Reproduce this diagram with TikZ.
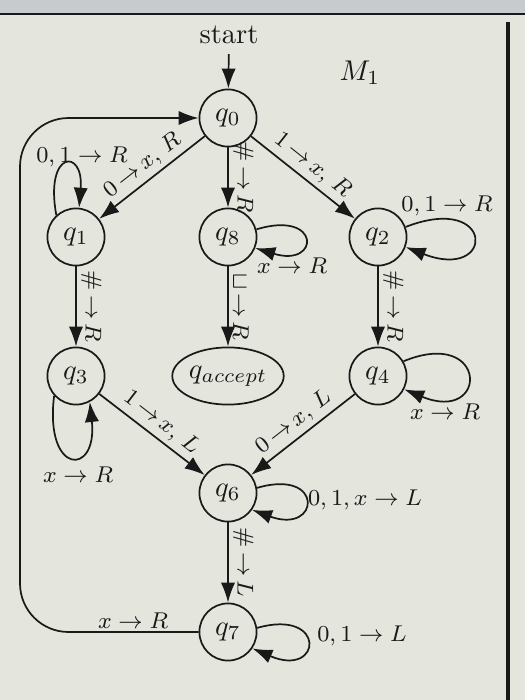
\documentclass[tikz,border=0pt]{standalone}
\usetikzlibrary{arrows.meta,shapes.geometric}
\definecolor{bg}{RGB}{228,230,221}
\definecolor{hdr}{RGB}{200,203,205}
\definecolor{ink}{RGB}{25,25,25}
\begin{document}
\begin{tikzpicture}[x=0.35pt,y=-0.35pt,
  state/.style={circle,draw=ink,line width=0.6pt,minimum size=20pt,inner sep=0pt,text=ink},
  acc/.style={ellipse,draw=ink,line width=0.6pt,minimum width=39pt,minimum height=20pt,inner sep=0pt,text=ink},
  edge/.style={draw=ink,line width=0.6pt,-{Latex[length=7pt,width=5pt]}},
  lbl/.style={font=\footnotesize,inner sep=1pt,text=ink},
  elbl/.style={lbl,sloped,above=0.5pt},
  ]
\useasboundingbox (0,0) rectangle (525,700);
\fill[bg] (0,0) rectangle (525,700);
\fill[hdr] (0,0) rectangle (525,13);
\draw[ink,line width=1pt] (0,14) -- (525,14);
\draw[ink,line width=1.4pt] (508,22) -- (508,700);

% states
\node[text=ink] (start) at (229,35) {start};
\node[text=ink] (m1) at (360,73) {$M_1$};
\node[state] (q0) at (228,118) {$q_0$};
\node[state] (q1) at (76,237) {$q_1$};
\node[state] (q8) at (228,237) {$q_8$};
\node[state] (q2) at (378,237) {$q_2$};
\node[state] (q3) at (76,376) {$q_3$};
\node[acc] (qa) at (228,376) {$q_{accept}$};
\node[state] (q4) at (378,376) {$q_4$};
\node[state] (q6) at (228,493) {$q_6$};
\node[state] (q7) at (228,632) {$q_7$};

% straight edges
\draw[edge] (start) -- (q0);
\draw[edge] (q0) -- node[elbl]{$0\,{\rightarrow}\,x,\,R$} (q1);
\draw[edge] (q0) -- node[elbl]{$\#\,{\rightarrow}\,R$} (q8);
\draw[edge] (q0) -- node[elbl]{$1\,{\rightarrow}\,x,\,R$} (q2);
\draw[edge] (q1) -- node[elbl]{$\#\,{\rightarrow}\,R$} (q3);
\draw[edge] (q8) -- node[elbl]{$\sqcup\,{\rightarrow}\,R$} (qa);
\draw[edge] (q2) -- node[elbl]{$\#\,{\rightarrow}\,R$} (q4);
\draw[edge] (q3) -- node[elbl]{$1\,{\rightarrow}\,x,\,L$} (q6);
\draw[edge] (q4) -- node[elbl]{$0\,{\rightarrow}\,x,\,L$} (q6);
\draw[edge] (q6) -- node[elbl]{$\#\,{\rightarrow}\,L$} (q7);

% return path q7 -> q0
\draw[edge,rounded corners=17pt] (q7.west) -- (20,632) -- (20,118) -- (q0.west);
\node[lbl] (lx7) at (133,621) {$x\rightarrow R$};

% self loops
\draw[edge] (q1.132) .. controls +(-12,-65) and +(5,-60) .. (q1.84);
\node[lbl] (l1) at (82,157) {$0, 1\rightarrow R$};

\draw[edge] (q8.15) .. controls +(65,-20) and +(65,20) .. (q8.-22);
\node[lbl] (l8) at (292,266) {$x\rightarrow R$};

\draw[edge] (q2.20) .. controls +(90,-35) and +(90,35) .. (q2.-20);
\node[lbl] (l2) at (447,206) {$0, 1\rightarrow R$};

\draw[edge] (q4.30) .. controls +(85,-35) and +(85,35) .. (q4.-27);
\node[lbl] (l4) at (445,412) {$x\rightarrow R$};

\draw[edge] (q3.222) .. controls +(-10,80) and +(8,75) .. (q3.298);
\node[lbl] (l3) at (78,475) {$x\rightarrow R$};

\draw[edge] (q6.10) .. controls +(68,-20) and +(68,25) .. (q6.-35);
\node[lbl] (l6) at (365,500) {$0, 1, x\rightarrow L$};

\draw[edge] (q7.8) .. controls +(70,-20) and +(70,30) .. (q7.-34);
\node[lbl] (l7) at (362,636) {$0, 1\rightarrow L$};
\end{tikzpicture}
\end{document}
